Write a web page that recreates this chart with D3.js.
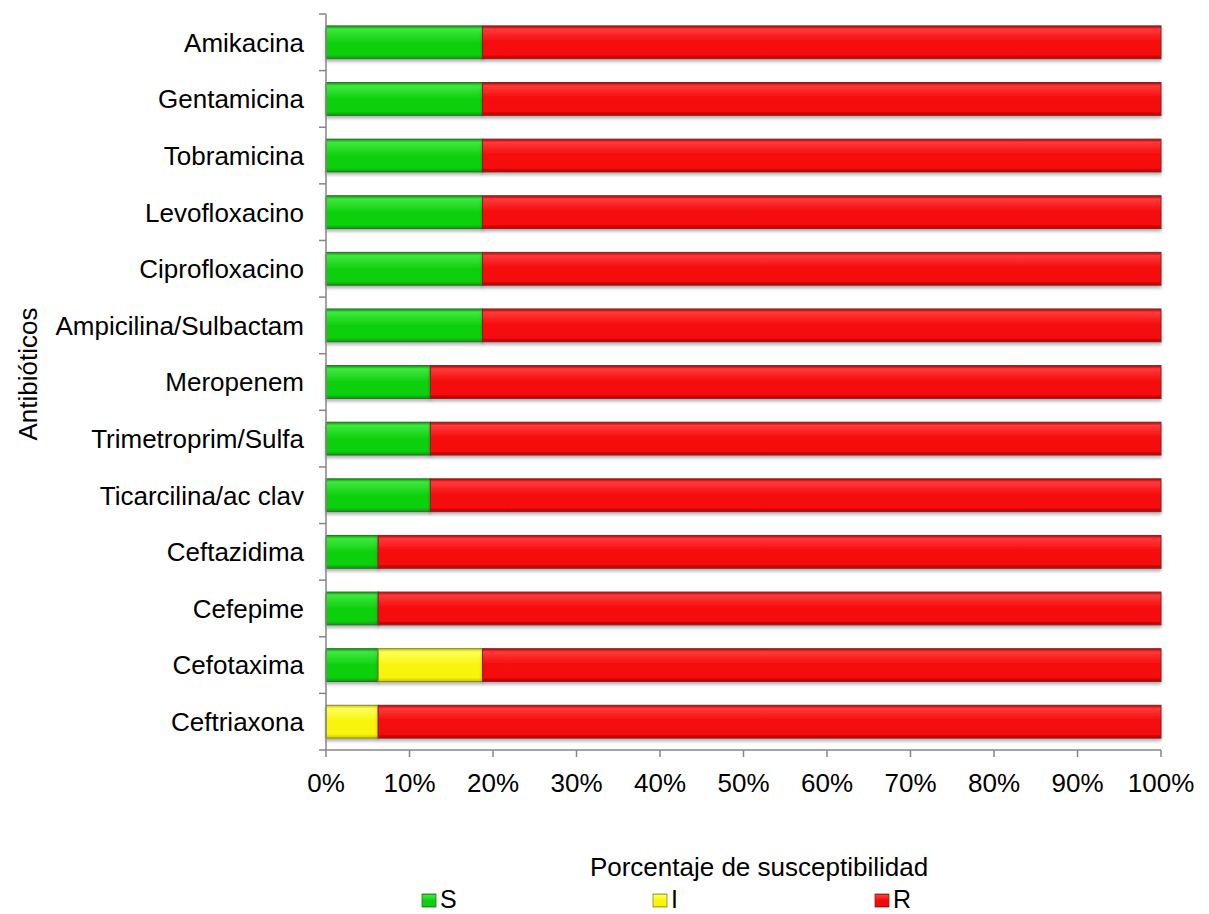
<!DOCTYPE html>
<html>
<head>
<meta charset="utf-8">
<script src="https://cdn.jsdelivr.net/npm/d3@7"></script>
<style>
  html, body { margin: 0; padding: 0; background: #fff; }
  svg { display: block; font-family: "Liberation Sans", Arial, sans-serif; }
</style>
</head>
<body>
<svg id="chart" width="1209" height="914"></svg>
<script>
// Antibiotic names, top to bottom
const antibiotics = [
  "Amikacina", "Gentamicina", "Tobramicina", "Levofloxacino ", "Ciprofloxacino",
  "Ampicilina/Sulbactam", "Meropenem", "Trimetroprim/Sulfa", "Ticarcilina/ac clav",
  "Ceftazidima ", "Cefepime", "Cefotaxima", "Ceftriaxona"
];
// Percent of isolates per category
const sensible   = [18.75, 18.75, 18.75, 18.75, 18.75, 18.75, 12.5, 12.5, 12.5, 6.25, 6.25, 6.25, 0];
const intermedio = [0, 0, 0, 0, 0, 0, 0, 0, 0, 0, 0, 12.5, 6.25];
const resistente = [81.25, 81.25, 81.25, 81.25, 81.25, 81.25, 87.5, 87.5, 87.5, 93.75, 93.75, 81.25, 93.75];
const seriesKeys = ["S", "I", "R"];
const xTicks = [0, 10, 20, 30, 40, 50, 60, 70, 80, 90, 100];

const colors = {
  S: { light: "#3ee83e", mid: "#0fd00f", dark: "#0a9a0a", edge: "#2f6f2f" },
  I: { light: "#ffff5a", mid: "#f8f40a", dark: "#c8c400", edge: "#8a8a2a" },
  R: { light: "#ff3a3a", mid: "#f50808", dark: "#b80000", edge: "#7a2a2a" }
};

const rows = antibiotics.map((name, i) => ({
  name, S: sensible[i], I: intermedio[i], R: resistente[i]
}));

const svg = d3.select("#chart");
const margin = { left: 326, right: 48, top: 14, bottom: 164 };
const W = 1209, H = 914;
const FS = 26;

const x = d3.scaleLinear().domain([0, 100]).range([margin.left, W - margin.right]);
const y = d3.scaleBand().domain(antibiotics).range([margin.top, H - margin.bottom]).paddingInner(0.42).paddingOuter(0.21);

const defs = svg.append("defs");
seriesKeys.forEach(k => {
  const g = defs.append("linearGradient").attr("id", "grad-" + k)
    .attr("x1", 0).attr("y1", 0).attr("x2", 0).attr("y2", 1);
  g.append("stop").attr("offset", "0%").attr("stop-color", colors[k].dark);
  g.append("stop").attr("offset", "10%").attr("stop-color", colors[k].light);
  g.append("stop").attr("offset", "50%").attr("stop-color", colors[k].mid);
  g.append("stop").attr("offset", "88%").attr("stop-color", colors[k].mid);
  g.append("stop").attr("offset", "100%").attr("stop-color", colors[k].dark);
});
const shadow = defs.append("filter").attr("id", "shadow")
  .attr("x", "-5%").attr("y", "-20%").attr("width", "110%").attr("height", "160%");
shadow.append("feDropShadow").attr("dx", 0).attr("dy", 2.5).attr("stdDeviation", 1.5)
  .attr("flood-color", "#000").attr("flood-opacity", 0.3);

const stacked = d3.stack().keys(seriesKeys)(rows);

const barLayer = svg.append("g");
stacked.forEach(layer => {
  const k = layer.key;
  barLayer.append("g").selectAll("rect")
    .data(layer.filter(d => d[1] - d[0] > 0))
    .join("rect")
    .attr("x", d => x(d[0]))
    .attr("y", d => y(d.data.name))
    .attr("width", d => x(d[1]) - x(d[0]))
    .attr("height", y.bandwidth())
    .attr("fill", "url(#grad-" + k + ")")
    .attr("stroke", colors[k].edge)
    .attr("stroke-width", 1)
    .attr("filter", "url(#shadow)");
});

// Y axis: line with ticks at band boundaries
const axisColor = "#868686";
const yAxis = svg.append("g");
yAxis.append("line")
  .attr("x1", margin.left).attr("x2", margin.left)
  .attr("y1", margin.top).attr("y2", H - margin.bottom)
  .attr("stroke", axisColor).attr("stroke-width", 1.5);
const step = y.step();
const bounds = d3.range(antibiotics.length + 1).map(i => y.range()[0] + i * step);
yAxis.selectAll("line.tk").data(bounds).join("line").attr("class", "tk")
  .attr("x1", margin.left - 7).attr("x2", margin.left)
  .attr("y1", d => d).attr("y2", d => d)
  .attr("stroke", axisColor).attr("stroke-width", 1.5);
yAxis.selectAll("text").data(antibiotics).join("text")
  .attr("x", margin.left - 22)
  .attr("y", d => y(d) + y.bandwidth() / 2)
  .attr("dy", "0.36em")
  .attr("text-anchor", "end")
  .attr("font-size", FS)
  .attr("fill", "#000")
  .text(d => d);

// X axis
const xAxisY = H - margin.bottom;
const xAxis = svg.append("g");
xAxis.append("line")
  .attr("x1", x(0)).attr("x2", x(100))
  .attr("y1", xAxisY).attr("y2", xAxisY)
  .attr("stroke", axisColor).attr("stroke-width", 1.5);
xAxis.selectAll("line.tk").data(xTicks).join("line").attr("class", "tk")
  .attr("x1", d => x(d)).attr("x2", d => x(d))
  .attr("y1", xAxisY).attr("y2", xAxisY + 7)
  .attr("stroke", axisColor).attr("stroke-width", 1.5);
xAxis.selectAll("text").data(xTicks).join("text")
  .attr("x", d => x(d))
  .attr("y", 792)
  .attr("text-anchor", "middle")
  .attr("font-size", FS)
  .attr("fill", "#000")
  .text(d => d + "%");

// Axis titles
svg.append("text")
  .attr("transform", "translate(37,374) rotate(-90)")
  .attr("text-anchor", "middle")
  .attr("font-size", FS)
  .text("Antibióticos");

svg.append("text")
  .attr("x", 759).attr("y", 876)
  .attr("text-anchor", "middle")
  .attr("font-size", FS)
  .text("Porcentaje de susceptibilidad");

// Legend
const legendPos = { S: 422, I: 653, R: 875 };
const lg = svg.append("g");
seriesKeys.forEach(k => {
  const gx = legendPos[k];
  lg.append("rect")
    .attr("x", gx).attr("y", 894).attr("width", 14).attr("height", 13)
    .attr("fill", "url(#grad-" + k + ")")
    .attr("stroke", colors[k].edge).attr("stroke-width", 0.8);
  lg.append("text")
    .attr("x", gx + 18).attr("y", 908)
    .attr("font-size", 25)
    .text(k);
});
</script>
</body>
</html>
